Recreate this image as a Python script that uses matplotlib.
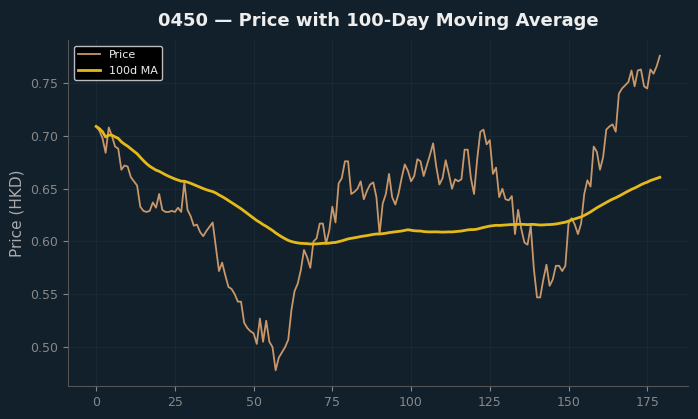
import matplotlib.pyplot as plt
import pandas as pd

ticker = '0450'
ma_window = 100

# daily closes
price = [
    0.709, 0.705, 0.698, 0.684, 0.708, 0.700, 0.690, 0.688, 0.668, 0.672,
    0.671, 0.661, 0.657, 0.653, 0.633, 0.629, 0.628, 0.629, 0.637, 0.632,
    0.645, 0.630, 0.628, 0.628, 0.629, 0.628, 0.632, 0.628, 0.656, 0.630,
    0.624, 0.615, 0.616, 0.609, 0.605, 0.610, 0.614, 0.618, 0.595, 0.572,
    0.580, 0.568, 0.557, 0.555, 0.550, 0.543, 0.543, 0.523, 0.518, 0.515,
    0.513, 0.503, 0.527, 0.505, 0.525, 0.505, 0.500, 0.478, 0.490, 0.495,
    0.500, 0.507, 0.535, 0.553, 0.560, 0.573, 0.592, 0.585, 0.575, 0.600,
    0.603, 0.617, 0.617, 0.598, 0.610, 0.633, 0.618, 0.655, 0.660, 0.676,
    0.676, 0.645, 0.647, 0.650, 0.657, 0.640, 0.648, 0.654, 0.656, 0.642,
    0.607, 0.636, 0.645, 0.664, 0.642, 0.635, 0.645, 0.660, 0.673, 0.667,
    0.657, 0.662, 0.678, 0.676, 0.662, 0.672, 0.682, 0.693, 0.671, 0.654,
    0.660, 0.677, 0.664, 0.650, 0.659, 0.657, 0.659, 0.687, 0.687, 0.660,
    0.645, 0.678, 0.704, 0.706, 0.692, 0.696, 0.664, 0.670, 0.642, 0.650,
    0.640, 0.639, 0.643, 0.607, 0.630, 0.612, 0.599, 0.597, 0.615, 0.574,
    0.547, 0.547, 0.564, 0.578, 0.558, 0.564, 0.577, 0.577, 0.572, 0.577,
    0.617, 0.622, 0.616, 0.607, 0.617, 0.645, 0.658, 0.652, 0.690, 0.685,
    0.668, 0.680, 0.706, 0.709, 0.711, 0.704, 0.740, 0.745, 0.748, 0.751,
    0.762, 0.747, 0.762, 0.763, 0.747, 0.745, 0.763, 0.759, 0.766, 0.776,
]

s = pd.Series(price)
ma = s.rolling(ma_window, min_periods=1).mean()

bg = '#11202a'
fig = plt.figure(figsize=(6.98, 4.19), dpi=100, facecolor=bg)
ax = fig.add_axes([68/698, 1-386/419, (688-68)/698, (386-40)/419])
ax.set_facecolor(bg)

ax.plot(s.index, s.values, color='#c8976a', lw=1.3, label='Price')
ax.plot(ma.index, ma.values, color='#e6b91a', lw=2.0, label='100d MA')

ax.set_title(f'{ticker} — Price with 100-Day Moving Average', color='#eeeeee',
             fontsize=13, fontweight='bold', pad=10)
ax.set_ylabel('Price (HKD)', color='#aaaaaa', fontsize=11)
ax.set_xticks([0, 25, 50, 75, 100, 125, 150, 175])
ax.tick_params(colors='#888888', labelsize=9)
for sp in ['top', 'right']:
    ax.spines[sp].set_visible(False)
for sp in ['left', 'bottom']:
    ax.spines[sp].set_color('#555555')
ax.grid(True, color='#22323c', lw=0.6, alpha=0.6)

leg = ax.legend(loc='upper left', facecolor='black', edgecolor='#bbbbbb',
                framealpha=1, fontsize=8)
for t in leg.get_texts():
    t.set_color('#eeeeee')

fig.savefig('out.png', dpi=100, facecolor=bg)
